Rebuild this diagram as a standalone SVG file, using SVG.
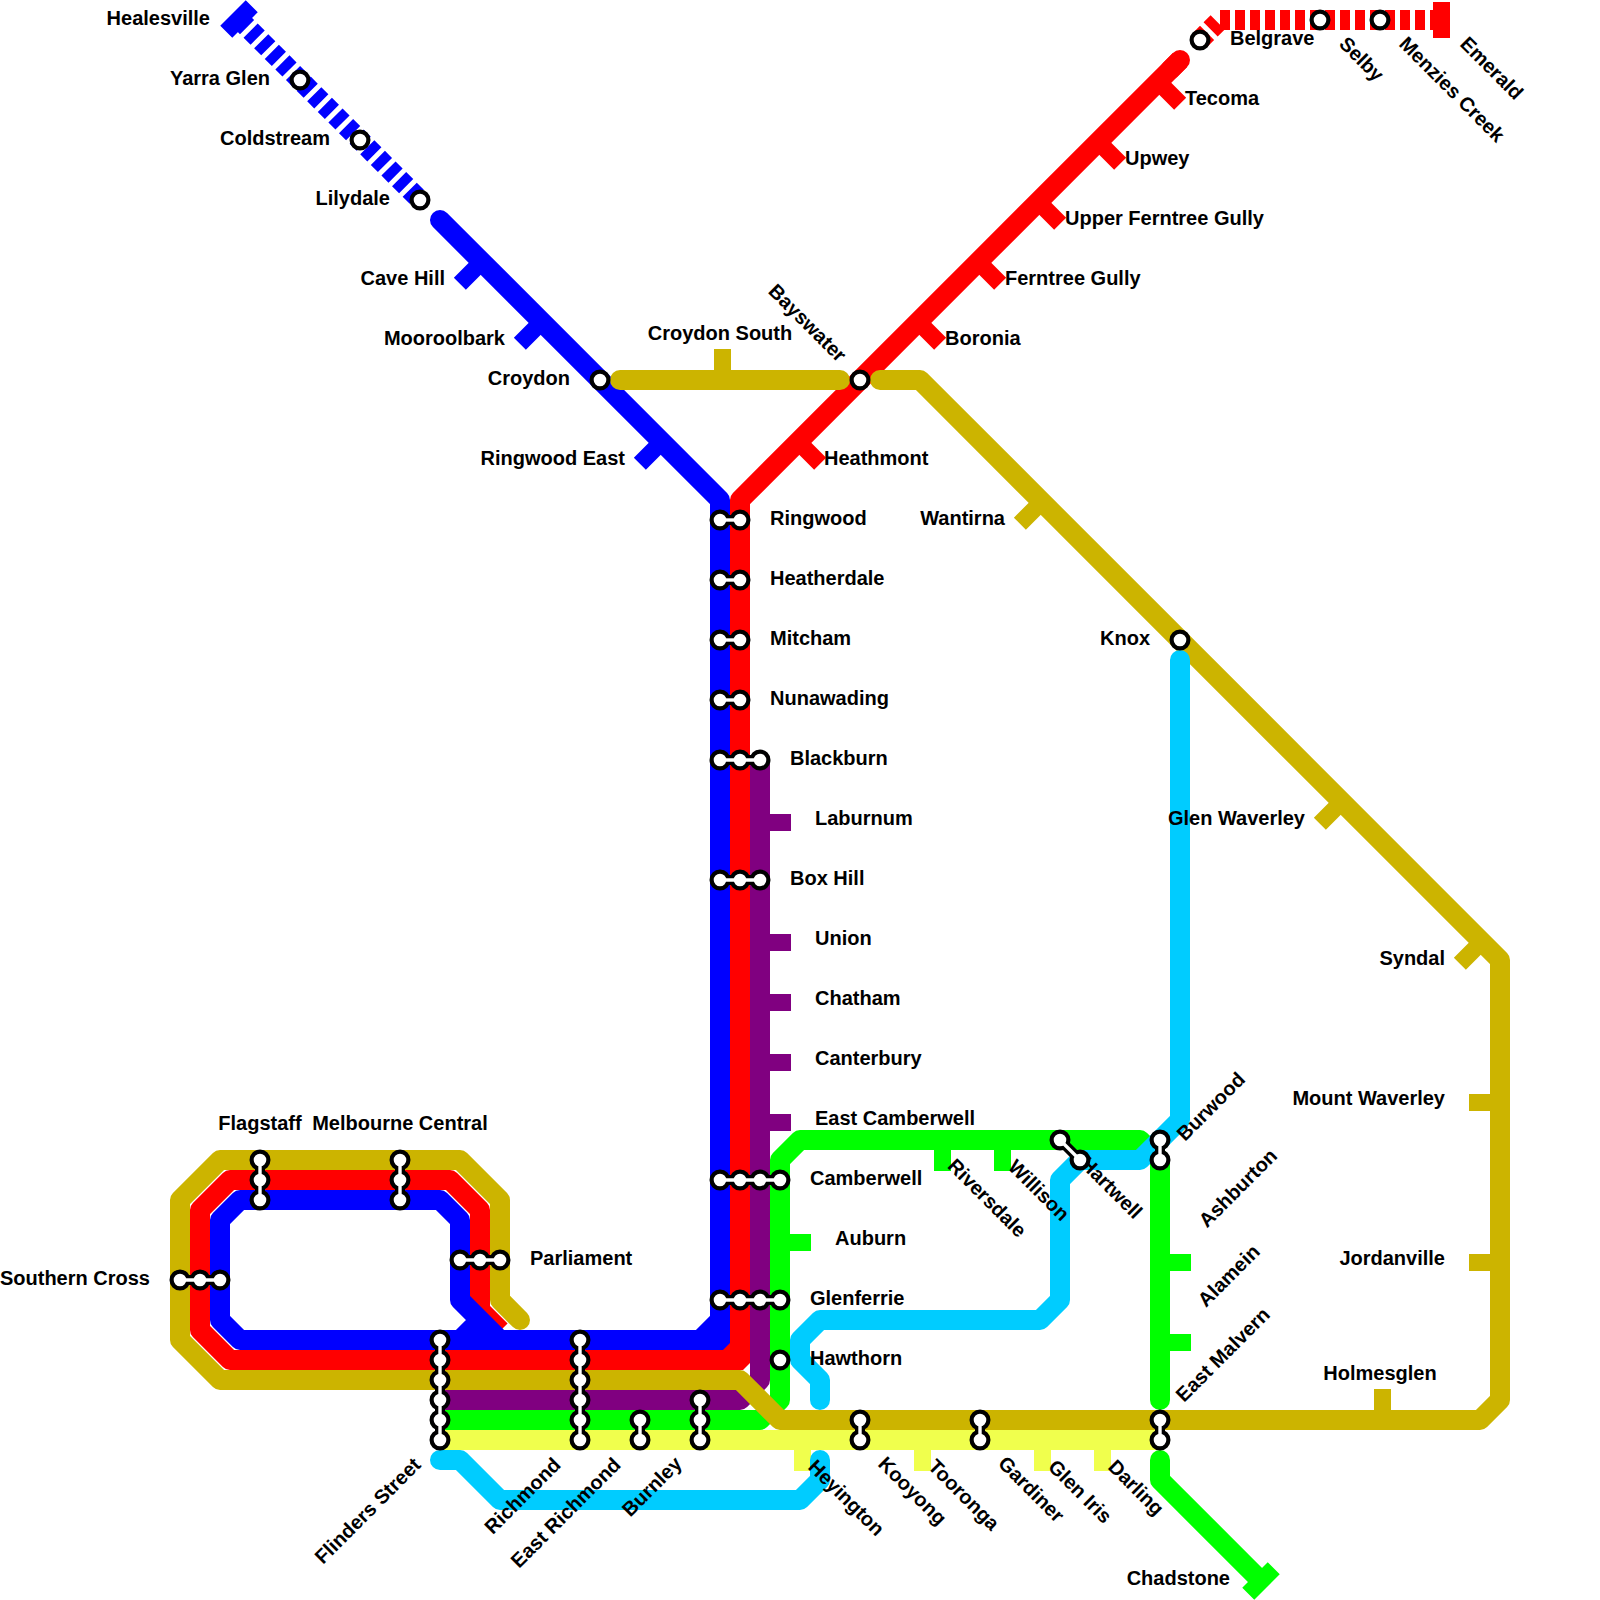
<svg xmlns="http://www.w3.org/2000/svg" width="1600" height="1600" viewBox="0 0 1600 1600">
<style>
.l{fill:none;stroke-width:20;stroke-linejoin:round;stroke-linecap:round}
.d{fill:none;stroke-width:20;stroke-dasharray:10 5}
.t{fill:none;stroke-width:17}
.blue{stroke:#0000ff}.red{stroke:#ff0000}.gold{stroke:#ccb400}.purple{stroke:#800080}.green{stroke:#00ff00}.yellow{stroke:#f0ff4d}.cyan{stroke:#00ccff}
.k{stroke:#000;stroke-width:10;fill:none}
.w{stroke:#fff;stroke-width:3.4;fill:none}
circle{fill:#fff;stroke:#000;stroke-width:4.2}
text{font-family:"Liberation Sans",Arial,sans-serif;font-weight:bold;font-size:20px;fill:#000}
.e{text-anchor:end}.m{text-anchor:middle}
</style>
<g id="connectors">
<g id="line-purple"><path class="l purple" d="M760,760V1380L740,1400H440"/><path class="t purple" d="M760,822.5H791M760,942.5H791M760,1002.5H791M760,1062.5H791M760,1122.5H791"/></g>
<g id="line-green"><path class="l green" d="M440,1420H760L780,1400V1160L800,1140H1140L1160,1160V1400"/><path class="l green" d="M1160,1460V1480L1260,1580" style="stroke-linecap:butt"/><path class="l green" d="M1160,1460V1470"/><path class="t green" d="M780,1242.5H811M942.5,1140V1171M1002.5,1140V1171M1160,1262.5H1191M1160,1342.5H1191M1248.27,1593.73L1273.73,1568.27"/></g>
<g id="line-yellow"><path class="l yellow" d="M440,1440H1160"/><path class="t yellow" d="M802.5,1440V1471M922.5,1440V1471M1042.5,1440V1471M1102.5,1440V1471"/></g>
<g id="line-red"><path class="l red" style="stroke-linecap:butt" d="M1180,60L740,500V1340L720,1360H230L200,1330V1210L230,1180H450L480,1210V1310L500.5,1330.5"/><path class="l red" d="M1180,60L1170,70"/><polygon points="730,1320 750,1320 750,1363 743,1370 710,1370 710,1350" fill="#ff0000"/><path class="d red" d="M1200,40L1220,20M1220,20H1440"/><path class="t red" d="M1158.23,81.77L1180.15,103.69M1098.23,141.77L1120.15,163.69M1038.23,201.77L1060.15,223.69M978.23,261.77L1000.15,283.69M918.23,321.77L940.15,343.69M798.23,441.77L820.15,463.69M1441.5,2V38"/></g>
<g id="line-blue"><path class="l blue" d="M440,220L720,500V1320L700,1340H500L460,1300V1220L440,1200H240L220,1220V1320L240,1340H500M460,1340L480,1320"/><polygon points="710,1320 730,1320 730,1343 723,1350 700,1350 700,1330" fill="#0000ff"/><path class="d blue" d="M240,20L420,200"/><path class="t blue" d="M481.77,261.77L459.85,283.69M541.77,321.77L519.85,343.69M661.77,441.77L639.85,463.69M226.27,31.73L251.73,6.27"/></g>
<g id="line-gold"><path class="l gold" d="M520,1320L500,1300V1200L460,1160H220L180,1200V1340L220,1380H740L780,1420H1480L1500,1400V960L920,380H880"/><path class="l gold" d="M620,380H840"/><path class="t gold" d="M1041.77,501.77L1019.85,523.69M1341.77,801.77L1319.85,823.69M1481.77,941.77L1459.85,963.69M722.5,380V349M1382.5,1420V1389M1500,1102.5H1469M1500,1262.5H1469"/></g>
<g id="line-cyan"><path class="l cyan" d="M1180,660V1120L1140,1160H1080L1060,1180V1300L1040,1320H820L800,1340V1360L820,1380V1400"/><path class="l cyan" d="M440,1460H460L500,1500H800L820,1480V1460"/></g>
</g>
<g id="healesville"><text x="210" y="25" class="e">Healesville</text></g>
<g id="yarra-glen"><text x="270" y="85" class="e">Yarra Glen</text><circle cx="300" cy="80" r="8.4"/></g>
<g id="coldstream"><text x="330" y="145" class="e">Coldstream</text><circle cx="360" cy="140" r="8.4"/></g>
<g id="lilydale"><text x="390" y="205" class="e">Lilydale</text><circle cx="420" cy="200" r="8.4"/></g>
<g id="cave-hill"><text x="445" y="285" class="e">Cave Hill</text></g>
<g id="mooroolbark"><text x="505" y="345" class="e">Mooroolbark</text></g>
<g id="croydon"><text x="570" y="385" class="e">Croydon</text><circle cx="600" cy="380" r="8.4"/></g>
<g id="ringwood-east"><text x="625" y="465" class="e">Ringwood East</text></g>
<g id="croydon-south"><text x="720" y="340" class="m">Croydon South</text></g>
<g id="bayswater"><text transform="translate(838,363) rotate(45)" class="e">Bayswater</text><circle cx="860" cy="380" r="8.4"/></g>
<g id="heathmont"><text x="824" y="465">Heathmont</text></g>
<g id="boronia"><text x="945" y="345">Boronia</text></g>
<g id="ferntree-gully"><text x="1005" y="285">Ferntree Gully</text></g>
<g id="upper-ferntree-gully"><text x="1065" y="225">Upper Ferntree Gully</text></g>
<g id="upwey"><text x="1125" y="165">Upwey</text></g>
<g id="tecoma"><text x="1185" y="105">Tecoma</text></g>
<g id="belgrave"><text x="1230" y="45">Belgrave</text><circle cx="1200" cy="40" r="8.4"/></g>
<g id="selby"><text transform="translate(1338,45) rotate(45)">Selby</text><circle cx="1320" cy="20" r="8.4"/></g>
<g id="menzies-creek"><text transform="translate(1398,45) rotate(45)">Menzies Creek</text><circle cx="1380" cy="20" r="8.4"/></g>
<g id="emerald"><text transform="translate(1459,45) rotate(45)">Emerald</text></g>
<g id="ringwood"><text x="770" y="525">Ringwood</text><path class="k" d="M720,520H740"/><circle cx="720" cy="520" r="8.4"/><circle cx="740" cy="520" r="8.4"/><path class="w" d="M720,520H740"/></g>
<g id="heatherdale"><text x="770" y="585">Heatherdale</text><path class="k" d="M720,580H740"/><circle cx="720" cy="580" r="8.4"/><circle cx="740" cy="580" r="8.4"/><path class="w" d="M720,580H740"/></g>
<g id="mitcham"><text x="770" y="645">Mitcham</text><path class="k" d="M720,640H740"/><circle cx="720" cy="640" r="8.4"/><circle cx="740" cy="640" r="8.4"/><path class="w" d="M720,640H740"/></g>
<g id="nunawading"><text x="770" y="705">Nunawading</text><path class="k" d="M720,700H740"/><circle cx="720" cy="700" r="8.4"/><circle cx="740" cy="700" r="8.4"/><path class="w" d="M720,700H740"/></g>
<g id="blackburn"><text x="790" y="765">Blackburn</text><path class="k" d="M720,760H760"/><circle cx="720" cy="760" r="8.4"/><circle cx="740" cy="760" r="8.4"/><circle cx="760" cy="760" r="8.4"/><path class="w" d="M720,760H760"/></g>
<g id="laburnum"><text x="815" y="825">Laburnum</text></g>
<g id="box-hill"><text x="790" y="885">Box Hill</text><path class="k" d="M720,880H760"/><circle cx="720" cy="880" r="8.4"/><circle cx="740" cy="880" r="8.4"/><circle cx="760" cy="880" r="8.4"/><path class="w" d="M720,880H760"/></g>
<g id="union"><text x="815" y="945">Union</text></g>
<g id="chatham"><text x="815" y="1005">Chatham</text></g>
<g id="canterbury"><text x="815" y="1065">Canterbury</text></g>
<g id="east-camberwell"><text x="815" y="1125">East Camberwell</text></g>
<g id="camberwell"><text x="810" y="1185">Camberwell</text><path class="k" d="M720,1180H780"/><circle cx="720" cy="1180" r="8.4"/><circle cx="740" cy="1180" r="8.4"/><circle cx="760" cy="1180" r="8.4"/><circle cx="780" cy="1180" r="8.4"/><path class="w" d="M720,1180H780"/></g>
<g id="auburn"><text x="835" y="1245">Auburn</text></g>
<g id="glenferrie"><text x="810" y="1305">Glenferrie</text><path class="k" d="M720,1300H780"/><circle cx="720" cy="1300" r="8.4"/><circle cx="740" cy="1300" r="8.4"/><circle cx="760" cy="1300" r="8.4"/><circle cx="780" cy="1300" r="8.4"/><path class="w" d="M720,1300H780"/></g>
<g id="hawthorn"><text x="810" y="1365">Hawthorn</text><circle cx="780" cy="1360" r="8.4"/></g>
<g id="flagstaff"><text x="260" y="1130" class="m">Flagstaff</text><path class="k" d="M260,1160V1200"/><circle cx="260" cy="1160" r="8.4"/><circle cx="260" cy="1180" r="8.4"/><circle cx="260" cy="1200" r="8.4"/><path class="w" d="M260,1160V1200"/></g>
<g id="melbourne-central"><text x="400" y="1130" class="m">Melbourne Central</text><path class="k" d="M400,1160V1200"/><circle cx="400" cy="1160" r="8.4"/><circle cx="400" cy="1180" r="8.4"/><circle cx="400" cy="1200" r="8.4"/><path class="w" d="M400,1160V1200"/></g>
<g id="parliament"><text x="530" y="1265">Parliament</text><path class="k" d="M460,1260H500"/><circle cx="460" cy="1260" r="8.4"/><circle cx="480" cy="1260" r="8.4"/><circle cx="500" cy="1260" r="8.4"/><path class="w" d="M460,1260H500"/></g>
<g id="southern-cross"><text x="150" y="1285" class="e">Southern Cross</text><path class="k" d="M180,1280H220"/><circle cx="180" cy="1280" r="8.4"/><circle cx="200" cy="1280" r="8.4"/><circle cx="220" cy="1280" r="8.4"/><path class="w" d="M180,1280H220"/></g>
<g id="flinders-street"><text transform="translate(422,1466) rotate(-45)" class="e">Flinders Street</text><path class="k" d="M440,1340V1440"/><circle cx="440" cy="1340" r="8.4"/><circle cx="440" cy="1360" r="8.4"/><circle cx="440" cy="1380" r="8.4"/><circle cx="440" cy="1400" r="8.4"/><circle cx="440" cy="1420" r="8.4"/><circle cx="440" cy="1440" r="8.4"/><path class="w" d="M440,1340V1440"/></g>
<g id="richmond"><text transform="translate(562,1466) rotate(-45)" class="e">Richmond</text><path class="k" d="M580,1340V1440"/><circle cx="580" cy="1340" r="8.4"/><circle cx="580" cy="1360" r="8.4"/><circle cx="580" cy="1380" r="8.4"/><circle cx="580" cy="1400" r="8.4"/><circle cx="580" cy="1420" r="8.4"/><circle cx="580" cy="1440" r="8.4"/><path class="w" d="M580,1340V1440"/></g>
<g id="east-richmond"><text transform="translate(622,1466) rotate(-45)" class="e">East Richmond</text><path class="k" d="M640,1420V1440"/><circle cx="640" cy="1420" r="8.4"/><circle cx="640" cy="1440" r="8.4"/><path class="w" d="M640,1420V1440"/></g>
<g id="burnley"><text transform="translate(683,1465) rotate(-45)" class="e">Burnley</text><path class="k" d="M700,1400V1440"/><circle cx="700" cy="1400" r="8.4"/><circle cx="700" cy="1420" r="8.4"/><circle cx="700" cy="1440" r="8.4"/><path class="w" d="M700,1400V1440"/></g>
<g id="heyington"><text transform="translate(807,1468) rotate(45)">Heyington</text></g>
<g id="kooyong"><text transform="translate(877,1465) rotate(45)">Kooyong</text><path class="k" d="M860,1420V1440"/><circle cx="860" cy="1420" r="8.4"/><circle cx="860" cy="1440" r="8.4"/><path class="w" d="M860,1420V1440"/></g>
<g id="tooronga"><text transform="translate(927,1467.5) rotate(45)">Tooronga</text></g>
<g id="gardiner"><text transform="translate(997,1464.5) rotate(45)">Gardiner</text><path class="k" d="M980,1420V1440"/><circle cx="980" cy="1420" r="8.4"/><circle cx="980" cy="1440" r="8.4"/><path class="w" d="M980,1420V1440"/></g>
<g id="glen-iris"><text transform="translate(1047,1468) rotate(45)">Glen Iris</text></g>
<g id="darling"><text transform="translate(1107,1468) rotate(45)">Darling</text></g>
<g id="riversdale"><text transform="translate(946.5,1167) rotate(45)">Riversdale</text></g>
<g id="willison"><text transform="translate(1007,1168) rotate(45)">Willison</text></g>
<g id="hartwell"><text transform="translate(1079,1165) rotate(45)">Hartwell</text><path class="k" d="M1060,1140L1080,1160"/><circle cx="1060" cy="1140" r="8.4"/><circle cx="1080" cy="1160" r="8.4"/><path class="w" d="M1060,1140L1080,1160"/></g>
<g id="burwood"><text transform="translate(1185,1142) rotate(-45)">Burwood</text><path class="k" d="M1160,1140V1160"/><circle cx="1160" cy="1140" r="8.4"/><circle cx="1160" cy="1160" r="8.4"/><path class="w" d="M1160,1140V1160"/></g>
<g id="ashburton"><text transform="translate(1207,1228.5) rotate(-45)">Ashburton</text></g>
<g id="alamein"><text transform="translate(1206,1308) rotate(-45)">Alamein</text></g>
<g id="east-malvern"><text transform="translate(1184,1403) rotate(-45)">East Malvern</text></g>
<g id="darling-junction"><path class="k" d="M1160,1420V1440"/><circle cx="1160" cy="1420" r="8.4"/><circle cx="1160" cy="1440" r="8.4"/><path class="w" d="M1160,1420V1440"/></g>
<g id="chadstone"><text x="1230" y="1585" class="e">Chadstone</text></g>
<g id="wantirna"><text x="1005" y="525" class="e">Wantirna</text></g>
<g id="knox"><text x="1150" y="645" class="e">Knox</text><circle cx="1180" cy="640" r="8.4"/></g>
<g id="glen-waverley"><text x="1305" y="825" class="e">Glen Waverley</text></g>
<g id="syndal"><text x="1445" y="965" class="e">Syndal</text></g>
<g id="mount-waverley"><text x="1445" y="1105" class="e">Mount Waverley</text></g>
<g id="jordanville"><text x="1445" y="1265" class="e">Jordanville</text></g>
<g id="holmesglen"><text x="1380" y="1380" class="m">Holmesglen</text></g>
</svg>
